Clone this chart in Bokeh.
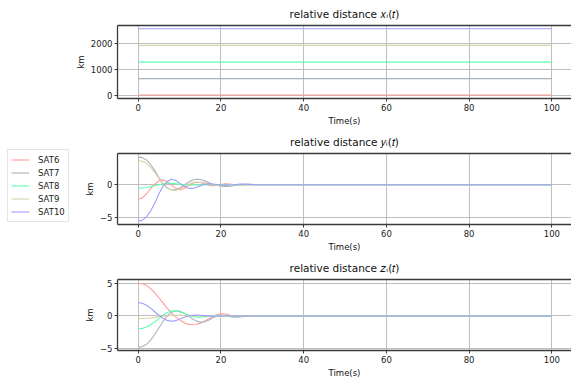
from bokeh.plotting import figure
from bokeh.models import Range1d, FixedTicker, LinearAxis, Legend, LegendItem
from bokeh.layouts import column, row
from bokeh.embed import file_html
from bokeh.resources import INLINE

# ---------------- data ----------------
sats = ["SAT6", "SAT7", "SAT8", "SAT9", "SAT10"]
colors = ["#ff9a9a", "#a9b3c0", "#5cffac", "#d6d3a8", "#9d9dff"]

# time samples (s)
t = [0, 1, 2, 3, 4, 5, 6, 7, 8, 9, 10, 11, 12, 13, 14, 15, 16, 17, 18, 19,
     20, 21, 22, 23, 24, 25, 26, 27, 28, 29, 30, 100]

# relative distance x_i(t) (km), constant over the run
t_x = [0, 100]
x_sat6 = [40, 40]
x_sat7 = [660, 660]
x_sat8 = [1290, 1290]
x_sat9 = [1930, 1930]
x_sat10 = [2560, 2560]

# relative distance y_i(t) (km)
y_sat6 = [-2.2, -2.0, -1.4, -0.6, 0.1, 0.6, 0.75, 0.5, 0.0, -0.5, -0.75, -0.6, -0.2, 0.2, 0.4, 0.35,
          0.15, -0.05, -0.12, -0.08, 0.05, 0.15, 0.12, 0.05, -0.02, -0.05, -0.03, 0.0, 0.01, 0.0, 0.0, 0.0]
y_sat7 = [4.26, 4.15, 3.8, 3.1, 2.2, 1.1, 0.15, -0.5, -0.75, -0.75, -0.5, -0.1, 0.35, 0.7, 0.85, 0.8,
          0.6, 0.35, 0.1, -0.1, -0.2, -0.25, -0.25, -0.15, -0.05, 0.05, 0.08, 0.06, 0.03, 0.0, 0.0, 0.0]
y_sat8 = [-0.5, -0.48, -0.42, -0.3, -0.15, 0.0, 0.12, 0.2, 0.22, 0.18, 0.1, 0.03, -0.02, -0.04, -0.03, -0.01,
          0.0, 0.0, 0.0, 0.0, 0.0, 0.0, 0.0, 0.0, 0.0, 0.0, 0.0, 0.0, 0.0, 0.0, 0.0, 0.0]
y_sat9 = [3.7, 3.6, 3.3, 2.7, 1.9, 1.0, 0.2, -0.45, -0.8, -0.85, -0.65, -0.3, 0.05, 0.3, 0.42, 0.4,
          0.3, 0.15, 0.02, -0.08, -0.1, -0.08, -0.04, 0.0, 0.02, 0.02, 0.01, 0.0, 0.0, 0.0, 0.0, 0.0]
y_sat10 = [-5.55, -5.4, -4.9, -4.0, -2.8, -1.4, -0.2, 0.5, 0.85, 0.7, 0.25, -0.2, -0.5, -0.55, -0.4, -0.15,
           0.05, 0.15, 0.12, 0.05, -0.02, -0.05, -0.03, 0.02, 0.08, 0.1, 0.1, 0.06, 0.02, 0.0, 0.0, 0.0]

# relative distance z_i(t) (km)
z_sat6 = [5.0, 4.95, 4.7, 4.2, 3.55, 2.8, 2.0, 1.2, 0.5, -0.1, -0.6, -1.0, -1.25, -1.35, -1.3, -1.1,
          -0.8, -0.45, -0.1, 0.2, 0.33, 0.3, 0.15, 0.0, -0.1, -0.12, -0.08, -0.03, 0.01, 0.02, 0.0, 0.0]
z_sat7 = [-4.8, -4.7, -4.35, -3.7, -2.85, -1.85, -0.85, 0.0, 0.55, 0.8, 0.75, 0.45, 0.05, -0.4, -0.75, -0.95,
          -0.9, -0.65, -0.3, 0.0, 0.12, 0.08, -0.08, -0.2, -0.18, -0.08, 0.02, 0.08, 0.05, 0.01, 0.0, 0.0]
z_sat8 = [-1.95, -1.9, -1.7, -1.35, -0.9, -0.4, 0.1, 0.5, 0.75, 0.78, 0.65, 0.42, 0.18, -0.02, -0.14, -0.18,
          -0.14, -0.08, -0.02, 0.02, 0.03, 0.02, 0.01, 0.0, 0.0, 0.0, 0.0, 0.0, 0.0, 0.0, 0.0, 0.0]
z_sat9 = [-0.4, -0.39, -0.36, -0.3, -0.22, -0.13, -0.05, 0.02, 0.07, 0.1, 0.1, 0.08, 0.05, 0.02, 0.0, -0.01,
          0.0, 0.0, 0.0, 0.0, 0.0, 0.0, 0.0, 0.0, 0.0, 0.0, 0.0, 0.0, 0.0, 0.0, 0.0, 0.0]
z_sat10 = [2.05, 1.95, 1.65, 1.2, 0.65, 0.1, -0.35, -0.68, -0.8, -0.72, -0.5, -0.22, 0.0, 0.12, 0.15, 0.12,
           0.06, 0.0, -0.03, -0.03, -0.01, 0.0, 0.0, 0.0, 0.0, 0.0, 0.0, 0.0, 0.0, 0.0, 0.0, 0.0]

x_ticks = [0, 20, 40, 60, 80, 100]
x_range = (-5, 104.75)

FONT = "DejaVu Sans"
SPINE = "#3a3a3a"
LEG_W = 70
MAIN_W = 571 - LEG_W


def make_fig(height, top, bottom, yr, yticks, title):
    p = figure(width=MAIN_W, height=height, output_backend="svg", toolbar_location=None,
               x_range=Range1d(*x_range), y_range=Range1d(*yr),
               min_border_left=117 - LEG_W, min_border_right=0,
               min_border_top=top, min_border_bottom=bottom)
    p.outline_line_color = None
    p.background_fill_color = "white"
    p.border_fill_color = "white"
    p.title.text = title
    p.title.text_font = FONT
    p.title.text_font_size = "10.5px"
    p.title.text_font_style = "normal"
    p.title.text_color = "#111111"
    p.title.align = "center"
    p.title.standoff = 11

    p.xaxis.ticker = FixedTicker(ticks=x_ticks)
    p.yaxis.ticker = FixedTicker(ticks=yticks)
    p.xaxis.axis_label = "Time(s)"
    p.yaxis.axis_label = "km"
    for ax in (p.xaxis, p.yaxis):
        ax.axis_label_text_font = FONT
        ax.axis_label_text_font_size = "8.5px"
        ax.axis_label_text_font_style = "normal"
        ax.axis_label_text_color = "#111111"
        ax.major_label_text_font = FONT
        ax.major_label_text_font_size = "8.5px"
        ax.major_label_text_color = "#222222"
        ax.axis_line_color = SPINE
        ax.axis_line_width = 1.3
        ax.major_tick_line_color = SPINE
        ax.major_tick_out = 3
        ax.major_tick_in = 0
        ax.minor_tick_line_color = None
        ax.major_label_standoff = 2
        ax.axis_label_standoff = 2

    top_axis = LinearAxis(ticker=FixedTicker(ticks=[]), axis_line_color=SPINE, axis_line_width=1.3,
                          major_label_text_font_size="0px", major_tick_line_color=None,
                          minor_tick_line_color=None, major_label_standoff=0)
    p.add_layout(top_axis, "above")

    p.xgrid.grid_line_color = "#b8b8b8"
    p.ygrid.grid_line_color = "#b8b8b8"
    p.xgrid.grid_line_width = 0.9
    p.ygrid.grid_line_width = 0.9
    return p


p1 = make_fig(128, 25, 29, (-96, 2686), [0, 1000, 2000], "relative distance 𝑥ᵢ(𝑡)")
p2 = make_fig(126, 22, 29, (-6.06, 4.78), [-5, 0], "relative distance 𝑦ᵢ(𝑡)")
p3 = make_fig(127, 23, 31, (-5.3, 5.6), [-5, 0, 5], "relative distance 𝑧ᵢ(𝑡)")

xs = [x_sat6, x_sat7, x_sat8, x_sat9, x_sat10]
ys = [y_sat6, y_sat7, y_sat8, y_sat9, y_sat10]
zs = [z_sat6, z_sat7, z_sat8, z_sat9, z_sat10]

# figure that only carries the legend, on the left
pl = figure(width=LEG_W, height=381, output_backend="svg", toolbar_location=None,
            x_axis_type=None, y_axis_type=None, title=None,
            x_range=Range1d(0, 1), y_range=Range1d(0, 1),
            min_border=0, min_border_left=0, min_border_right=0,
            min_border_top=0, min_border_bottom=0)
pl.outline_line_color = None
pl.xgrid.visible = False
pl.ygrid.visible = False

items = []
for name, c, xv, yv, zv in zip(sats, colors, xs, ys, zs):
    p1.line(t_x, xv, line_color=c, line_width=1.1)
    p2.line(t, yv, line_color=c, line_width=1.1)
    p3.line(t, zv, line_color=c, line_width=1.1)
    # proxy line (outside the invisible range) that only feeds the legend
    r = pl.line(t_x, xv, line_color=c, line_width=1.1)
    items.append(LegendItem(label=name, renderers=[r]))

legend = Legend(items=items, location=(7, 381 - 222), margin=0, padding=3, spacing=0,
                label_height=13, glyph_height=13, glyph_width=18, label_standoff=9,
                label_text_font=FONT, label_text_font_size="8.5px", label_text_color="#222222",
                border_line_color="#cccccc", border_line_width=1,
                background_fill_color="white", background_fill_alpha=1)
pl.add_layout(legend)

layout = row(pl, column(p1, p2, p3, spacing=0), spacing=0)
open("out.html", "w").write(file_html(layout, INLINE))
